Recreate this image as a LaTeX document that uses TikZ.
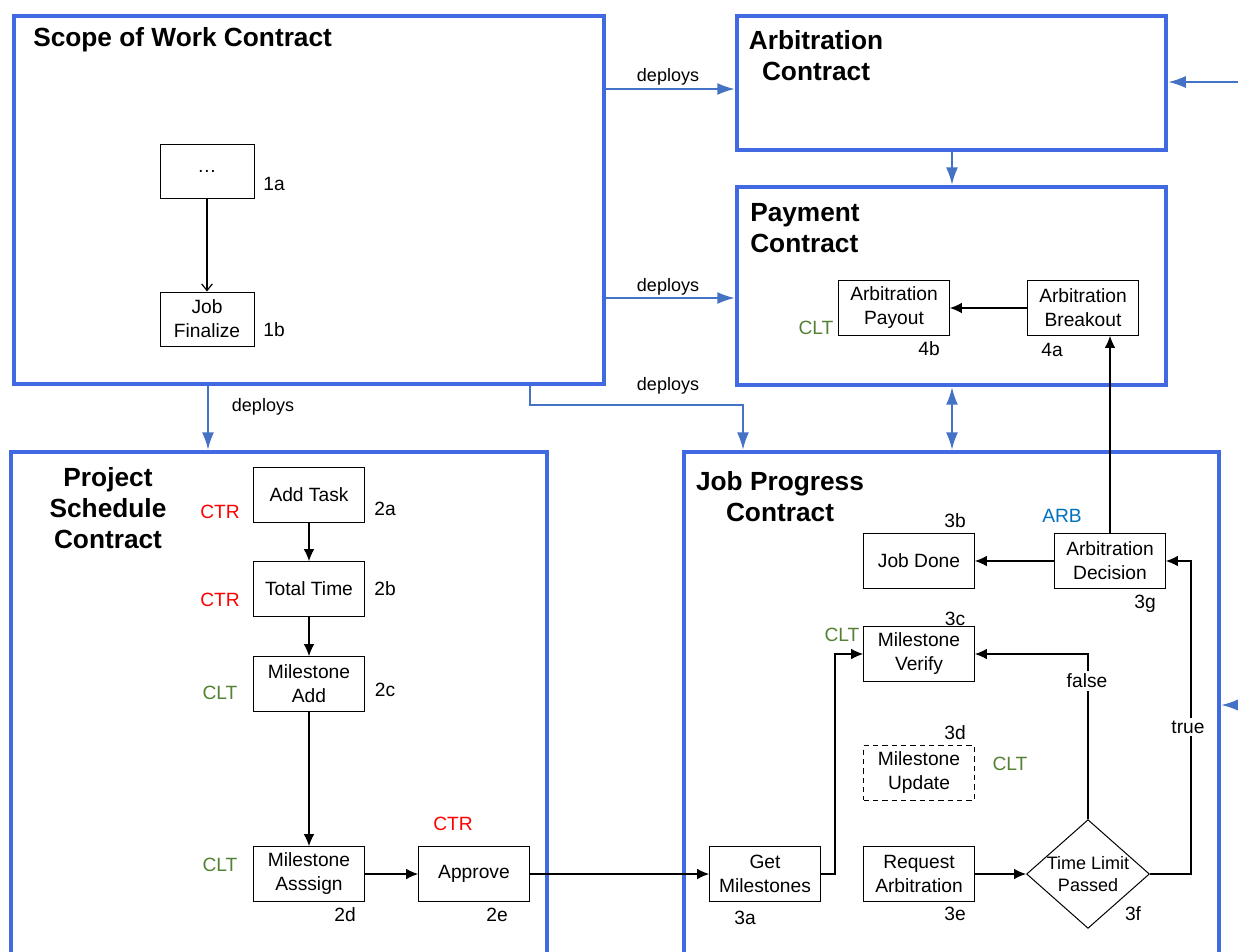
\documentclass[tikz,border=0pt]{standalone}
\usepackage{fontspec}
\setmainfont{Liberation Sans}
\usetikzlibrary{arrows.meta,shapes.geometric,fit}
\definecolor{cblue}{RGB}{65,105,225}
\definecolor{lblue}{RGB}{68,114,196}
\definecolor{cltgreen}{RGB}{84,130,53}
\definecolor{arbblue}{RGB}{0,112,192}
\begin{document}
\begin{tikzpicture}[x=0.75pt,y=-0.75pt,
 container/.style={draw=cblue,line width=3.6pt,inner sep=0pt},
 title/.style={font=\fontsize{19.7}{23.3}\selectfont\bfseries,align=center,inner sep=0pt},
 box/.style={draw,line width=0.75pt,minimum width=83pt,minimum height=41pt,align=center,font=\fontsize{14.4}{18}\selectfont,inner sep=1pt},
 sbox/.style={box,minimum width=70.5pt,minimum height=40.5pt},
 lbl/.style={font=\fontsize{14.4}{18}\selectfont,inner sep=0pt},
 ctr/.style={lbl,text=red},
 clt/.style={lbl,text=cltgreen},
 arb/.style={lbl,text=arbblue},
 dep/.style={lbl,font=\fontsize{13.5}{16}\selectfont},
 btip/.tip={Latex[length=13pt,width=9pt]},
 ktip/.tip={Latex[length=9pt,width=8pt]},
 barrow/.style={draw=lblue,line width=1.2pt,-btip},
 karrow/.style={draw,line width=1pt,-ktip},
]
\useasboundingbox (0,0) rectangle (1238,951);
\fill[white] (0,0) rectangle (1238,951);

% containers
\node[container,fit={(14,16) (604,384)}] (sow) {};
\node[container,fit={(737,16) (1166,150)}] (arbc) {};
\node[container,fit={(737,187) (1166,385)}] (pay) {};
\node[container,fit={(11,452) (547,1000)}] (ps) {};
\node[container,fit={(684,452) (1219,1000)}] (jp) {};

\node[title,anchor=west] (tsow) at (33,40) {Scope of Work Contract};
\node[title] (tarb) at (816,56) {Arbitration\\Contract};
\node[title,align=left] (tpay) at (805,228) {Payment\\Contract};
\node[title] (tps) at (108,508) {Project\\Schedule\\Contract};
\node[title] (tjp) at (780,497) {Job Progress\\Contract};

% scope of work
\node[sbox] (n1a) at (207,171) {…};
\node[sbox] (n1b) at (207,319) {Job\\Finalize};
\node[lbl] (l1a) at (274,184) {1a};
\node[lbl] (l1b) at (274,330) {1b};
\draw[line width=0.9pt,-{Straight Barb[length=5pt,width=8pt]}] (n1a) -- (n1b);

% project schedule
\node[box] (n2a) at (309,495) {Add Task};
\node[box] (n2b) at (309,589) {Total Time};
\node[box] (n2c) at (309,684) {Milestone\\Add};
\node[box] (n2d) at (309,874) {Milestone\\Asssign};
\node[box] (n2e) at (474,874) {Approve};
\node[lbl] (l2a) at (385,509) {2a};
\node[lbl] (l2b) at (385,589) {2b};
\node[lbl] (l2c) at (385,690) {2c};
\node[lbl] (l2d) at (345,915) {2d};
\node[lbl] (l2e) at (497,915) {2e};
\node[ctr] (c2a) at (220,512) {CTR};
\node[ctr] (c2b) at (220,600) {CTR};
\node[clt] (c2c) at (220,693) {CLT};
\node[clt] (c2d) at (220,865) {CLT};
\node[ctr] (c2e) at (453,824) {CTR};
\draw[karrow] (n2a) -- (n2b);
\draw[karrow] (n2b) -- (n2c);
\draw[karrow] (n2c) -- (n2d);
\draw[karrow] (n2d) -- (n2e);

% payment
\node[box] (n4a) at (1083,308) {Arbitration\\Breakout};
\node[box] (n4b) at (894,308) {Arbitration\\Payout};
\node[lbl] (l4a) at (1052,350) {4a};
\node[lbl] (l4b) at (929,349) {4b};
\node[clt] (c4b) at (816,328) {CLT};
\draw[karrow] (n4a) -- (n4b);

% job progress
\node[box] (n3a) at (765,874) {Get\\Milestones};
\node[box] (n3b) at (919,561) {Job Done};
\node[box] (n3c) at (919,654) {Milestone\\Verify};
\node[box,dashed,dash pattern=on 4pt off 3pt] (n3d) at (919,773) {Milestone\\Update};
\node[box] (n3e) at (919,874) {Request\\Arbitration};
\node[draw,line width=0.75pt,diamond,aspect=1.13,minimum width=88.5pt,minimum height=78pt,inner sep=0pt,align=center,font=\fontsize{13.5}{17}\selectfont] (n3f) at (1088,874) {Time Limit\\Passed};
\node[box] (n3g) at (1110,561) {Arbitration\\Decision};
\node[lbl] (l3a) at (745,918) {3a};
\node[lbl] (l3b) at (955,521) {3b};
\node[lbl] (l3c) at (955,619) {3c};
\node[lbl] (l3d) at (955,733) {3d};
\node[lbl] (l3e) at (955,914) {3e};
\node[lbl] (l3f) at (1133,914) {3f};
\node[lbl] (l3g) at (1145,604) {3g};
\node[clt] (c3c) at (842,635) {CLT};
\node[clt] (c3d) at (1010,764) {CLT};
\node[arb] (a3g) at (1062,516) {ARB};

\draw[karrow] (n2e) -- (n3a);
\draw[karrow] (n3a.east) -- ++(14,0) |- (n3c.west);
\draw[karrow] (n3e) -- (n3f);
\draw[karrow] (n3f.north) |- (n3c.east);
\node[lbl,fill=white,inner sep=2pt] (lfalse) at (1087,681) {false};
\draw[karrow] (n3f.east) -- ++(41,0) |- (n3g.east);
\node[lbl,fill=white,inner sep=2pt] (ltrue) at (1188,727) {true};
\draw[karrow] (n3g) -- (n3b);
\draw[karrow] (n3g.north) -- (n3g.north |- n4a.south);

% blue connectors
\draw[barrow] (sow.east |- 0,89) -- (arbc.west |- 0,89);
\node[dep] (d1) at (668,77) {deploys};
\draw[barrow] (sow.east |- 0,298) -- (pay.west |- 0,298);
\node[dep] (d2) at (668,287) {deploys};
\draw[barrow] (sow.south -| 208,0) -- (ps.north -| 208,0);
\node[dep] (d3) at (263,407) {deploys};
\draw[barrow] (sow.south -| 530,0) |- (743,405) -- (jp.north -| 743,0);
\node[dep] (d4) at (668,386) {deploys};
\draw[barrow] (arbc.south -| 952,0) -- (pay.north -| 952,0);
\draw[barrow,btip-btip] (pay.south -| 952,0) -- (jp.north -| 952,0);
\coordinate (r1) at (1240,82);
\coordinate (r2) at (1240,705);
\draw[barrow] (r1) -- (arbc.east |- r1);
\draw[barrow] (r2) -- (jp.east |- r2);
\end{tikzpicture}
\end{document}
